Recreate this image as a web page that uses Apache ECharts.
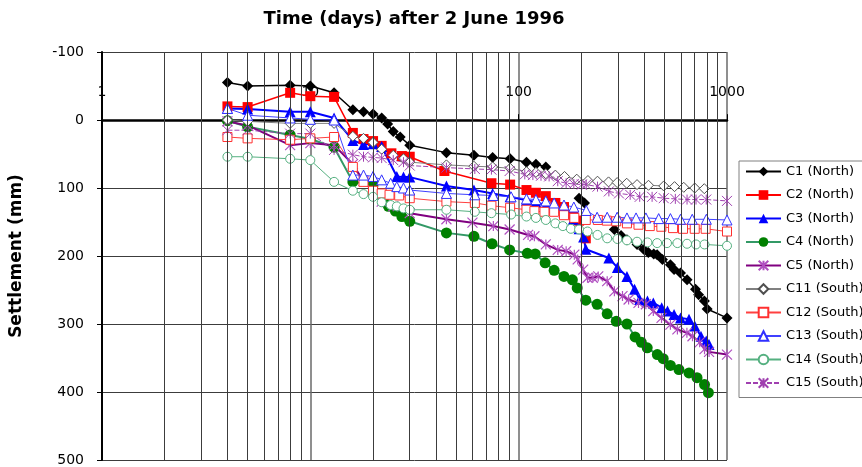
<!DOCTYPE html>
<html>
<head>
<meta charset="utf-8">
<script src="https://cdn.jsdelivr.net/npm/echarts@6/dist/echarts.min.js"></script>
<style>
  html, body { margin: 0; padding: 0; background: #ffffff; }
  #chart { width: 862px; height: 467px; }
</style>
</head>
<body>
<div id="chart"></div>
<script>
// Settlement of monitoring points over time (days after 2 June 1996)
const seriesNames = ['C1 (North)', 'C2 (North)', 'C3 (North)', 'C4 (North)', 'C5 (North)',
  'C11 (South)', 'C12 (South)', 'C13 (South)', 'C14 (South)', 'C15 (South)'];

// null marks a break in the record
const c1Days = [4, 5, 8, 10, 13, 16, 18, 20, 22, 23.5, 25, 27, 30, 45, 61, 75, 91, 109, 121, 135, 160, 195, 207, 250, 288, 310, 331, 370, 398, 419, 445, 462, 490, 535, 557, 598, 643, 706, 731, 779, 803, 1000];
const c1Vals = [-55, -50, -51, -50, -40, -15, -12, -9, -3, 6, 17, 25, 37, 48, 52, 55, 57, 62, 65, 69, null, 115, 122, null, 161, 170, 176, 183, 190, 195, 197, 198, 205, 213, 220, 225, 235, 249, 257, 266, 278, 291];

const c2Days = [4, 5, 8, 10, 13, 16, 18, 20, 22, 24.5, 27.5, 30, 44, 74, 91, 109, 121, 135, 150, 165, 183, 195, 210];
const c2Vals = [-20, -19, -40, -35, -34, 19, 28, 31, 38, 49, 53, 54, 75, 93, 95, 103, 107, 112, 122, 128, 140, 148, 174];

const c3Days = [4, 5, 8, 10, 13, 16, 18, 20, 22, 26, 28, 30, 45, 61, 75, 91, 109, 121, 135, 148, 165, 183, 195, 205, 210, 271, 298, 331, 360, 381, 415, 443, 486, 518, 557, 598, 657, 700, 750, 795, 820];
const c3Vals = [-17, -16, -12, -12, -3, 30, 36, 35, 39, 83, 84, 84, 97, 103, 108, 113, 118, 121, 125, 129, 136, 146, 160, 172, 190, 203, 217, 230, 249, 264, 266, 269, 276, 281, 286, 291, 293, 303, 318, 325, 330];

const c4Days = [4, 5, 8, 10, 13, 16, 20, 21, 22.5, 23.7, 25.6, 27.5, 30, 45, 61, 74.5, 90.5, 110, 120, 134, 148, 165, 181, 191, 210, 238, 266, 294, 331, 362, 388, 414, 463, 494, 535, 588, 657, 718, 780, 814];
const c4Vals = [1, 10, 22, 28, 40, 91, 95, 108, 120, 127, 134, 142, 149, 166, 171, 182, 191, 196, 197, 210, 221, 230, 235, 247, 265, 271, 285, 296, 300, 319, 327, 335, 345, 351, 361, 367, 372, 379, 389, 401];

const c5Days = [4, 5, 8, 10, 13, 16, 18, 20, 22, 25, 30, 45, 60, 75.6, 90.5, 111, 119, 135, 154, 169, 185, 192, 204, 214, 227, 241, 266, 288, 315, 337, 376, 408, 443, 485, 535, 578, 642, 683, 739, 780, 820, 1000];
const c5Vals = [2, 8, 37, 34, 37, 65, 90, 105, 120, 127, 137, 146, 151, 156, 161, 169, 171, 183, 191, 193, 198, 205, 220, 232, 232, 230, 237, 252, 259, 264, 269, 271, 281, 291, 301, 308, 313, 318, 327, 337, 341, 345];

const c11Days = [4, 5, 8, 10, 13, 16, 18, 20, 22, 25, 28, 30, 45, 61, 75, 91, 109, 121, 135, 150, 166, 190, 215, 239, 270, 297, 330, 370, 420, 497, 560, 620, 700, 778];
const c11Vals = [0, 2, 5, 5, 5, 24, 27, 33, 43, 52, 57, 62, 66, 68, 69, 71, 76, 77, 79, 81, 83, 87, 89, 90, 91, 92, 93, 95, 96, 97, 98, 99, 100, 101];

const c12Days = [4, 5, 8, 10, 13, 16, 18, 20, 22, 24, 26.7, 30, 45, 61.6, 74, 91, 109, 119, 133, 148, 165, 185, 210, 240, 265, 294, 331, 376, 426, 484, 551, 615, 700, 790, 1000];
const c12Vals = [25, 27, 29, 27, 25, 69, 91, 104, 108, 110, 111, 115, 120, 122, 126, 129, 132, 134, 135, 135, 140, 144, 147, 147, 148, 149, 152, 154, 156, 157, 159, 160, 160, 160, 164];

const c13Days = [4, 5, 8, 10, 13, 16, 18, 20, 22, 24.3, 26, 28, 30, 45, 61.6, 75.6, 92, 109, 121, 135, 148, 165, 184, 211, 238, 266, 297, 331, 366, 408, 470, 535, 598, 681, 796, 1000];
const c13Vals = [-17, -7, -3, -1, 0, 81, 81, 83, 88, 93, 98, 100, 103, 108, 110, 111, 113, 116, 117, 119, 122, 125, 128, 133, 143, 143, 143, 144, 144, 144, 145, 145, 146, 146, 146, 147];

const c14Days = [4, 5, 8, 10, 13, 16, 18, 20, 22, 24.3, 26, 28, 30, 45, 61.6, 74, 92, 109, 121, 135, 150, 163, 178, 195, 214, 239, 266, 298, 331, 370, 415, 462, 515, 578, 643, 710, 780, 1000];
const c14Vals = [54, 54, 57, 59, 91, 104, 109, 113, 121, 125, 127, 130, 132, 132, 135, 137, 139, 142, 144, 147, 152, 156, 160, 161, 164, 169, 174, 175, 177, 179, 180, 181, 181, 181, 182, 183, 183, 185];

const c15Days = [4, 5, 8, 10, 13, 16, 18, 20, 22, 25, 28, 30, 45, 61.6, 74, 90.5, 107, 117, 128, 140, 154, 169, 184, 201, 211, 239, 271, 303, 343, 381, 437, 497, 565, 643, 710, 795, 1000];
const c15Vals = [15, 15, 20, 20, 44, 51, 54, 55, 56, 59, 62, 67, 70, 72, 73, 75, 80, 81, 82, 83, 90, 93, 94, 95, 95, 98, 105, 108, 110, 113, 113, 115, 116, 117, 117, 117, 119];

// intermediate log-cycle gridlines (2..9 of each decade)
const minorGridDays = [2, 3, 4, 5, 6, 7, 8, 9, 20, 30, 40, 50, 60, 70, 80, 90, 200, 300, 400, 500, 600, 700, 800, 900];

const FONT = 'DejaVu Sans';
const ASTERISK = 'path://M5 0L5 10M0 0L10 10M10 0L0 10';
const Y_MIN = -100, Y_MAX = 500;
const GRID_TOP = 52, GRID_BOTTOM = 6, CHART_H = 467;

function pairs(days, vals) {
  return days.map((d, i) => [d, vals[i] === null ? '-' : vals[i]]);
}

function lineSeries(name, days, vals, opt) {
  return {
    name: name,
    type: 'line',
    data: pairs(days, vals),
    connectNulls: false,
    symbol: opt.symbol,
    symbolSize: opt.size,
    showAllSymbol: true,
    lineStyle: { color: opt.line, width: opt.width, type: opt.dash || 'solid' },
    itemStyle: {
      color: opt.fill,
      borderColor: opt.border || opt.fill,
      borderWidth: opt.borderWidth || 0
    },
    emphasis: { disabled: true }
  };
}

const series = [
  {
    name: 'grid',
    type: 'line',
    data: [],
    z: 1,
    silent: true,
    markLine: {
      silent: true,
      symbol: ['none', 'none'],
      label: { show: false },
      lineStyle: { color: '#3c3c3c', width: 1, type: 'solid' },
      emphasis: { disabled: true },
      data: minorGridDays.map(d => ({ xAxis: d }))
    }
  },
  lineSeries(seriesNames[0], c1Days, c1Vals, { symbol: 'diamond', size: 11, line: '#000000', width: 1.5, fill: '#000000' }),
  lineSeries(seriesNames[1], c2Days, c2Vals, { symbol: 'rect', size: 10, line: '#ff0000', width: 1.5, fill: '#ff0000' }),
  lineSeries(seriesNames[2], c3Days, c3Vals, { symbol: 'triangle', size: 11, line: '#0000ff', width: 2, fill: '#0000ff' }),
  lineSeries(seriesNames[3], c4Days, c4Vals, { symbol: 'circle', size: 11, line: '#339966', width: 2, fill: '#008000' }),
  lineSeries(seriesNames[4], c5Days, c5Vals, { symbol: ASTERISK, size: 10, line: '#800080', width: 2, fill: '#ffffff', border: '#b050c0', borderWidth: 1.2 }),
  lineSeries(seriesNames[5], c11Days, c11Vals, { symbol: 'diamond', size: 10, line: '#808080', width: 1, fill: '#ffffff', border: '#505050', borderWidth: 1 }),
  lineSeries(seriesNames[6], c12Days, c12Vals, { symbol: 'rect', size: 9, line: '#ff4040', width: 1, fill: '#ffffff', border: '#ff3030', borderWidth: 1 }),
  lineSeries(seriesNames[7], c13Days, c13Vals, { symbol: 'triangle', size: 10, line: '#4040ff', width: 1, fill: '#ffffff', border: '#3030ff', borderWidth: 1 }),
  lineSeries(seriesNames[8], c14Days, c14Vals, { symbol: 'circle', size: 9, line: '#55b080', width: 1, fill: '#ffffff', border: '#55b080', borderWidth: 1 }),
  lineSeries(seriesNames[9], c15Days, c15Vals, { symbol: ASTERISK, size: 10, line: '#a040b0', width: 1, dash: [5, 2], fill: '#ffffff', border: '#a040b0', borderWidth: 1 })
];

// the time axis runs along settlement = 0: shift it down from the top edge
const plotH = CHART_H - GRID_TOP - GRID_BOTTOM;
const zeroShift = plotH * (0 - Y_MIN) / (Y_MAX - Y_MIN);

const chart = echarts.init(document.getElementById('chart'), null, { renderer: 'canvas' });
chart.setOption({
  animation: false,
  backgroundColor: '#ffffff',
  textStyle: { fontFamily: FONT },
  grid: { left: 99, right: 135, top: GRID_TOP, bottom: GRID_BOTTOM, containLabel: false },
  graphic: [{
    type: 'text',
    x: 414,
    y: 19,
    style: {
      text: 'Time (days) after 2 June 1996',
      font: 'bold 18px "DejaVu Sans"',
      fill: '#000000',
      align: 'center',
      verticalAlign: 'middle'
    }
  }],
  legend: {
    orient: 'vertical',
    left: 739,
    top: 161,
    padding: [4, 2, 8, 6],
    itemWidth: 35,
    itemHeight: 12,
    itemGap: 10.5,
    borderColor: '#808080',
    borderWidth: 1,
    selectedMode: false,
    data: seriesNames,
    textStyle: { fontFamily: FONT, fontSize: 13, color: '#000000' }
  },
  xAxis: {
    type: 'log',
    logBase: 10,
    min: 1,
    max: 1000,
    position: 'top',
    offset: -zeroShift,
    axisLine: { onZero: false, lineStyle: { color: '#000000', width: 2.5 } },
    axisTick: { show: true, length: 6, lineStyle: { color: '#000000', width: 1 } },
    axisLabel: {
      margin: 21, color: '#000000', fontFamily: FONT, fontSize: 14,
      formatter: v => String(Math.round(v))
    },
    splitLine: { show: true, lineStyle: { color: '#6a6a6a', width: 1.5 } },
    minorTick: { show: false },
    minorSplitLine: { show: false }
  },
  yAxis: {
    type: 'value',
    inverse: true,
    min: Y_MIN,
    max: Y_MAX,
    interval: 100,
    name: 'Settlement (mm)',
    nameLocation: 'middle',
    nameRotate: 90,
    nameGap: 77,
    nameTextStyle: { fontFamily: FONT, fontWeight: 'bold', fontSize: 17, color: '#000000' },
    axisLine: { show: true, onZero: false, lineStyle: { color: '#000000', width: 2 } },
    axisTick: { show: true, length: 5, lineStyle: { color: '#000000' } },
    axisLabel: { margin: 18, color: '#000000', fontFamily: FONT, fontSize: 14 },
    splitLine: { show: true, lineStyle: { color: '#3c3c3c', width: 1 } }
  },
  series: series
});
</script>
</body>
</html>
